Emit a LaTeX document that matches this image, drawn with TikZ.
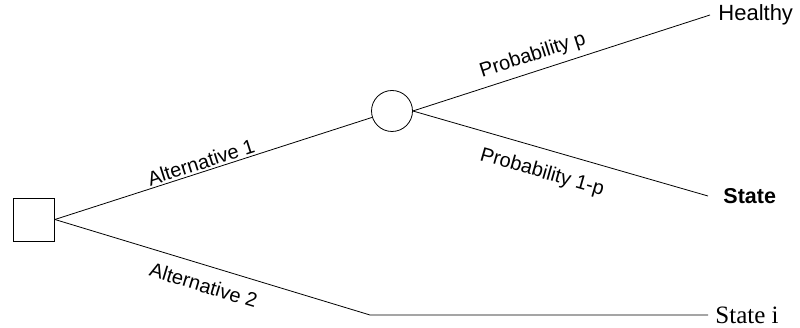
\documentclass[tikz,border=0pt]{standalone}
\usepackage{fontspec}
\setmainfont{Liberation Serif}
\setsansfont{Liberation Sans}
\usetikzlibrary{positioning}

\begin{document}
\begin{tikzpicture}[x=1pt,y=1pt,line width=0.8pt,
decision/.style={draw,minimum width=41pt,minimum height=43pt,inner sep=0pt},
chance/.style={draw,circle,minimum size=41pt,inner sep=0pt},
branchlabel/.style={sloped,inner sep=1pt,font=\sffamily\fontsize{20}{22}\selectfont},
outcome/.style={anchor=west,inner sep=0pt}]
\useasboundingbox (0,0) rectangle (800,328);
% decision and chance nodes
\node[decision] (choice) at (34,108.5) {};
\node[chance] (risk) at (392,217) {};
\coordinate (bend) at (370,13);
% outcomes
\node[outcome,font=\sffamily\fontsize{22}{24}\selectfont] (healthy) at (718,313) {Healthy};
\node[outcome,font=\sffamily\bfseries\fontsize{21.5}{24}\selectfont] (state) at (723,132) {State};
\node[outcome,font=\fontsize{25}{28}\selectfont] (statei) at (715,13) {State i};
% branches
\draw (choice.east) -- node[branchlabel,pos=0.47,above=1pt] {Alternative 1} (risk);
\draw (risk.east) -- node[branchlabel,pos=0.42,above=5pt] {Probability p} ([xshift=-8pt]healthy.west);
\draw (risk.east) -- node[branchlabel,pos=0.46,below=13pt] {Probability 1-p} ([xshift=-15pt]state.west);
\draw (choice.east) -- node[branchlabel,pos=0.49,below=11pt] {Alternative 2} (bend)
  -- ([xshift=-7pt]statei.west);
\end{tikzpicture}
\end{document}
